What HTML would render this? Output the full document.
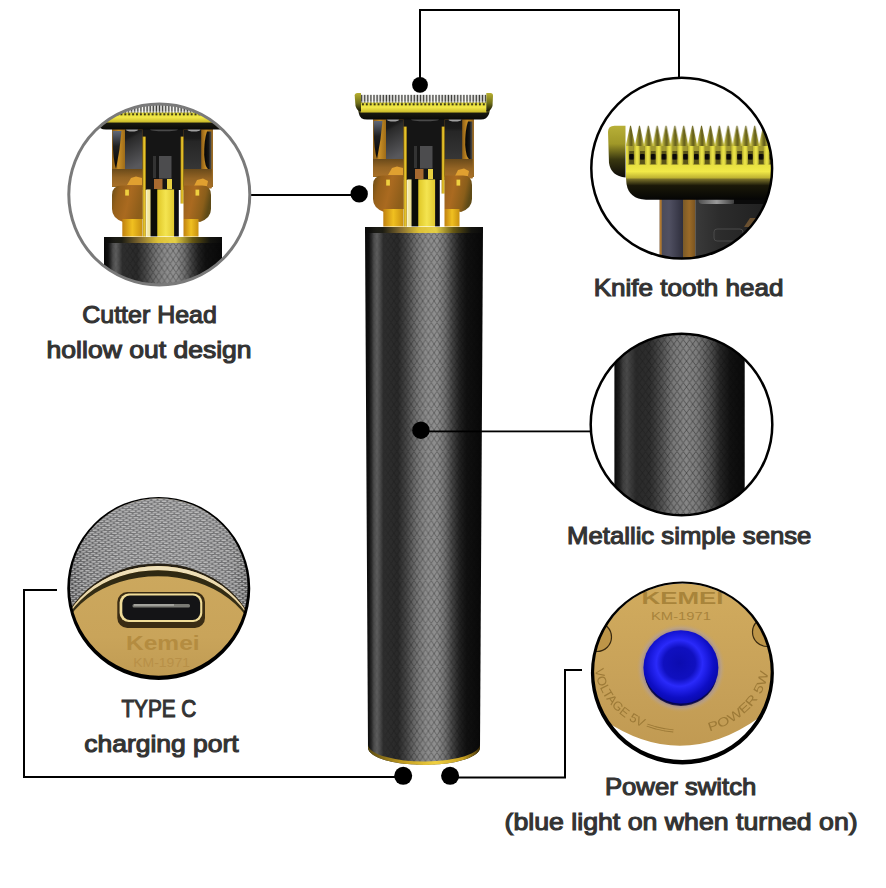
<!DOCTYPE html>
<html><head><meta charset="utf-8">
<style>
html,body{margin:0;padding:0;background:#fff;width:886px;height:888px;overflow:hidden;}
svg{display:block;}
.lbl{font-family:"Liberation Sans",sans-serif;font-weight:normal;fill:#333;stroke:#333;stroke-width:1.1px;font-size:24px;}
</style></head><body>
<svg width="886" height="888" viewBox="0 0 886 888">
<defs>
  <linearGradient id="bodyG" x1="0" y1="0" x2="1" y2="0">
    <stop offset="0" stop-color="#080808"/>
    <stop offset="0.034" stop-color="#111111"/>
    <stop offset="0.055" stop-color="#2a2a2a"/>
    <stop offset="0.076" stop-color="#4c4c4c"/>
    <stop offset="0.102" stop-color="#5e5e5e"/>
    <stop offset="0.127" stop-color="#4a4a4a"/>
    <stop offset="0.155" stop-color="#2e2e2e"/>
    <stop offset="0.28" stop-color="#2a2a2a"/>
    <stop offset="0.36" stop-color="#4a4a4a"/>
    <stop offset="0.44" stop-color="#747474"/>
    <stop offset="0.52" stop-color="#8c8c8c"/>
    <stop offset="0.61" stop-color="#8e8e8e"/>
    <stop offset="0.68" stop-color="#707070"/>
    <stop offset="0.74" stop-color="#444444"/>
    <stop offset="0.8" stop-color="#222222"/>
    <stop offset="0.86" stop-color="#111111"/>
    <stop offset="1" stop-color="#080808"/>
  </linearGradient>
  <linearGradient id="bodyG2" x1="0" y1="0" x2="1" y2="0">
    <stop offset="0" stop-color="#0a0a0a"/>
    <stop offset="0.04" stop-color="#202020"/>
    <stop offset="0.066" stop-color="#3e3e3e"/>
    <stop offset="0.097" stop-color="#4a4a4a"/>
    <stop offset="0.127" stop-color="#3a3a3a"/>
    <stop offset="0.166" stop-color="#2a2a2a"/>
    <stop offset="0.273" stop-color="#2e2e2e"/>
    <stop offset="0.35" stop-color="#4a4a4a"/>
    <stop offset="0.45" stop-color="#787878"/>
    <stop offset="0.55" stop-color="#868686"/>
    <stop offset="0.64" stop-color="#7a7a7a"/>
    <stop offset="0.733" stop-color="#525252"/>
    <stop offset="0.81" stop-color="#262626"/>
    <stop offset="0.887" stop-color="#121212"/>
    <stop offset="1" stop-color="#0a0a0a"/>
  </linearGradient>
  <pattern id="knurl2" width="6.3" height="8.6" patternUnits="userSpaceOnUse" x="614" y="0">
    <path d="M0 4.3 L3.15 0 L6.3 4.3 L3.15 8.6 Z" fill="none" stroke="#000" stroke-opacity="0.4" stroke-width="0.9"/>
  </pattern>
  <pattern id="knurl" width="5.75" height="8.6" patternUnits="userSpaceOnUse">
    <path d="M0 4.3 L2.875 0 L5.75 4.3 L2.875 8.6 Z" fill="none" stroke="#000" stroke-opacity="0.36" stroke-width="0.8"/>
  </pattern>
  <linearGradient id="rimG" x1="0" y1="0" x2="1" y2="0">
    <stop offset="0" stop-color="#5a4a10"/>
    <stop offset="0.3" stop-color="#c09a20"/>
    <stop offset="0.6" stop-color="#f0d040"/>
    <stop offset="0.85" stop-color="#c8a020"/>
    <stop offset="1" stop-color="#403008"/>
  </linearGradient>
  <linearGradient id="topBandG" x1="0" y1="0" x2="1" y2="0">
    <stop offset="0" stop-color="#0a0a0a"/>
    <stop offset="0.15" stop-color="#1a1a10"/>
    <stop offset="0.3" stop-color="#8a7030"/>
    <stop offset="0.45" stop-color="#e8c830"/>
    <stop offset="0.6" stop-color="#f0d840"/>
    <stop offset="0.75" stop-color="#6a5a10"/>
    <stop offset="0.9" stop-color="#151510"/>
    <stop offset="1" stop-color="#0a0a0a"/>
  </linearGradient>
  <!-- blade gradients -->
  <linearGradient id="yelG" x1="0" y1="0" x2="0" y2="1">
    <stop offset="0" stop-color="#d8d030"/>
    <stop offset="0.5" stop-color="#f2e848"/>
    <stop offset="1" stop-color="#c8b828"/>
  </linearGradient>
  <linearGradient id="capG" x1="0" y1="0" x2="0" y2="1">
    <stop offset="0" stop-color="#b8b030"/>
    <stop offset="0.55" stop-color="#707018"/>
    <stop offset="1" stop-color="#101008"/>
  </linearGradient>
  <linearGradient id="colG" x1="0" y1="0" x2="1" y2="0">
    <stop offset="0" stop-color="#8e5e16"/>
    <stop offset="0.5" stop-color="#c88e26"/>
    <stop offset="1" stop-color="#9e6c18"/>
  </linearGradient>
  <linearGradient id="lobeG" x1="0" y1="0" x2="1" y2="0.3">
    <stop offset="0" stop-color="#6a4c16"/>
    <stop offset="0.25" stop-color="#96601a"/>
    <stop offset="0.6" stop-color="#aa6a20"/>
    <stop offset="1" stop-color="#8e5e1a"/>
  </linearGradient>
  <linearGradient id="neckG" x1="0" y1="0" x2="1" y2="0">
    <stop offset="0" stop-color="#c08010"/>
    <stop offset="0.5" stop-color="#f0c020"/>
    <stop offset="1" stop-color="#c89010"/>
  </linearGradient>
  <linearGradient id="cylG" x1="0" y1="0" x2="1" y2="0">
    <stop offset="0" stop-color="#f4eeb0"/>
    <stop offset="0.12" stop-color="#f0e090"/>
    <stop offset="0.14" stop-color="#0c0c08"/>
    <stop offset="0.33" stop-color="#0c0c08"/>
    <stop offset="0.35" stop-color="#e0c828"/>
    <stop offset="0.6" stop-color="#f4e450"/>
    <stop offset="0.85" stop-color="#e0c830"/>
    <stop offset="0.87" stop-color="#0c0c10"/>
    <stop offset="1" stop-color="#0c0c10"/>
  </linearGradient>
  <linearGradient id="blockG" x1="0" y1="0" x2="1" y2="0">
    <stop offset="0" stop-color="#2a2a2a"/>
    <stop offset="0.12" stop-color="#5a5a5a"/>
    <stop offset="0.2" stop-color="#333"/>
    <stop offset="0.5" stop-color="#222"/>
    <stop offset="0.8" stop-color="#333"/>
    <stop offset="0.9" stop-color="#444"/>
    <stop offset="1" stop-color="#2a2a2a"/>
  </linearGradient>
  <pattern id="teeth" width="3.1" height="7.8" patternUnits="userSpaceOnUse" x="360.5">
    <rect x="0" y="0" width="3.1" height="7.8" fill="#fbfbf8"/>
    <rect x="0.4" y="0.4" width="1.2" height="7.4" fill="#383834"/>
    <rect x="1.6" y="0.4" width="0.6" height="7.4" fill="#a0a0a0"/>
  </pattern>

  <linearGradient id="darkInL" x1="0" y1="0" x2="0" y2="1">
    <stop offset="0" stop-color="#606878"/>
    <stop offset="0.4" stop-color="#202020"/>
    <stop offset="1" stop-color="#050505"/>
  </linearGradient>
  <linearGradient id="darkInR" x1="0" y1="0" x2="1" y2="0">
    <stop offset="0" stop-color="#050505"/>
    <stop offset="0.6" stop-color="#151515"/>
    <stop offset="1" stop-color="#505050"/>
  </linearGradient>
  <linearGradient id="blkL" x1="0" y1="0" x2="0.25" y2="1">
    <stop offset="0" stop-color="#161616"/>
    <stop offset="0.22" stop-color="#1c1c1c"/>
    <stop offset="0.3" stop-color="#2a2a2a"/>
    <stop offset="1" stop-color="#58585c"/>
  </linearGradient>
  <linearGradient id="blkR" x1="0" y1="0" x2="0" y2="1">
    <stop offset="0" stop-color="#161616"/>
    <stop offset="0.22" stop-color="#1c1c1c"/>
    <stop offset="0.3" stop-color="#262626"/>
    <stop offset="1" stop-color="#363636"/>
  </linearGradient>
  <linearGradient id="lobeGR" x1="0" y1="0" x2="1" y2="0.3">
    <stop offset="0" stop-color="#96601c"/>
    <stop offset="0.4" stop-color="#aa6a20"/>
    <stop offset="0.8" stop-color="#8a5e1a"/>
    <stop offset="1" stop-color="#5e4a16"/>
  </linearGradient>
  <linearGradient id="rodG" x1="0" y1="0" x2="1" y2="0">
    <stop offset="0" stop-color="#a88010"/>
    <stop offset="0.5" stop-color="#f0d030"/>
    <stop offset="1" stop-color="#b08810"/>
  </linearGradient>
  <linearGradient id="bladeDarkG" x1="0" y1="0" x2="0" y2="1">
    <stop offset="0" stop-color="#6a6420"/>
    <stop offset="0.35" stop-color="#181810"/>
    <stop offset="1" stop-color="#0a0a08"/>
  </linearGradient>
  <pattern id="rivets" width="3.9" height="3" patternUnits="userSpaceOnUse" x="361" y="102.6">
    <rect x="0.9" y="0.4" width="2" height="2.3" rx="0.8" fill="#1e1c0c"/>
  </pattern>
  <linearGradient id="trGray" x1="0" y1="0" x2="1" y2="0">
    <stop offset="0" stop-color="#4a4a58"/>
    <stop offset="0.4" stop-color="#505062"/>
    <stop offset="1" stop-color="#2e2e3c"/>
  </linearGradient>
  <linearGradient id="trGold" x1="0" y1="0" x2="1" y2="0">
    <stop offset="0" stop-color="#7a5a28"/>
    <stop offset="0.5" stop-color="#9a6a28"/>
    <stop offset="1" stop-color="#7a5420"/>
  </linearGradient>
  <linearGradient id="trDark" x1="0" y1="0" x2="1" y2="0">
    <stop offset="0" stop-color="#3a3a3a"/>
    <stop offset="0.3" stop-color="#2c2c2c"/>
    <stop offset="1" stop-color="#1e1e1e"/>
  </linearGradient>
  <linearGradient id="trPill" x1="0" y1="0" x2="1" y2="0">
    <stop offset="0" stop-color="#505050"/>
    <stop offset="0.5" stop-color="#9a9a9a"/>
    <stop offset="1" stop-color="#3a3a3a"/>
  </linearGradient>
  <linearGradient id="trBand" x1="0" y1="0" x2="0" y2="1">
    <stop offset="0" stop-color="#8a8030"/>
    <stop offset="0.35" stop-color="#1a1808"/>
    <stop offset="1" stop-color="#050505"/>
  </linearGradient>
  <linearGradient id="trUnder" x1="0" y1="0" x2="0" y2="1">
    <stop offset="0" stop-color="#8a8428"/>
    <stop offset="0.5" stop-color="#d0c840"/>
    <stop offset="1" stop-color="#c8c038"/>
  </linearGradient>
  <linearGradient id="trTooth" x1="0" y1="0" x2="1" y2="0">
    <stop offset="0" stop-color="#d8d048"/>
    <stop offset="0.42" stop-color="#7a7424"/>
    <stop offset="0.58" stop-color="#605a1a"/>
    <stop offset="1" stop-color="#c0b838"/>
  </linearGradient>
  <pattern id="trTeeth" x="626.1" y="125" width="8.87" height="23" patternUnits="userSpaceOnUse">
    <rect width="8.87" height="23" fill="#ffffff"/>
    <path d="M0 19.5 L4.0 0.7 L4.9 0.7 L8.87 19.5 L8.87 23 L0 23 Z" fill="url(#trTooth)"/>
  </pattern>
  <pattern id="trLower" x="629.2" y="140" width="10.8" height="26" patternUnits="userSpaceOnUse">
    <rect width="10.8" height="26" fill="#5a5418"/>
    <rect x="4.9" y="-3" width="5.7" height="28.5" rx="2.8" fill="url(#trLowerG)"/>
    <rect x="-0.1" y="-3" width="4.9" height="14" fill="#a09830"/>
  </pattern>
  <linearGradient id="trLowerG" x1="0" y1="0" x2="1" y2="0">
    <stop offset="0" stop-color="#b8b030"/>
    <stop offset="0.5" stop-color="#f0e84a"/>
    <stop offset="1" stop-color="#c8c038"/>
  </linearGradient>
  <pattern id="trHoles" x="629.2" y="154" width="10.8" height="5.6" patternUnits="userSpaceOnUse">
    <rect x="0" y="0" width="4.6" height="5.6" rx="1" fill="#0a0808"/>
  </pattern>
  <linearGradient id="trYel" x1="0" y1="0" x2="0" y2="1">
    <stop offset="0" stop-color="#e8e040"/>
    <stop offset="0.5" stop-color="#f2ea48"/>
    <stop offset="1" stop-color="#b8ac30"/>
  </linearGradient>
  <linearGradient id="trCap" x1="0" y1="0" x2="0" y2="1">
    <stop offset="0" stop-color="#b8b038"/>
    <stop offset="0.35" stop-color="#a09828"/>
    <stop offset="0.65" stop-color="#3a3810"/>
    <stop offset="1" stop-color="#0c0a08"/>
  </linearGradient>
  <linearGradient id="blFace" x1="0" y1="0" x2="0" y2="1">
    <stop offset="0.4" stop-color="#cca85e"/>
    <stop offset="0.75" stop-color="#c9a45a"/>
    <stop offset="1" stop-color="#bf9a52"/>
  </linearGradient>
  <linearGradient id="blKnurlBase" gradientUnits="userSpaceOnUse" x1="67" y1="0" x2="250" y2="0">
    <stop offset="0" stop-color="#3a3a3c"/>
    <stop offset="0.1" stop-color="#626264"/>
    <stop offset="0.3" stop-color="#727274"/>
    <stop offset="0.7" stop-color="#767678"/>
    <stop offset="0.9" stop-color="#6a6a6c"/>
    <stop offset="1" stop-color="#404040"/>
  </linearGradient>
  <pattern id="blKnurl" width="6.4" height="4.2" patternUnits="userSpaceOnUse" patternTransform="rotate(-3)">
    <rect x="0" y="1.95" width="6.4" height="0.5" fill="#303030" opacity="0.35"/>
    <rect x="0" y="4.05" width="6.4" height="0.3" fill="#303030" opacity="0.35"/>
    <ellipse cx="3.2" cy="1.0" rx="2.6" ry="0.85" fill="#cacaca" opacity="0.85"/>
    <ellipse cx="0" cy="3.1" rx="2.6" ry="0.85" fill="#cacaca" opacity="0.85"/>
    <ellipse cx="6.4" cy="3.1" rx="2.6" ry="0.85" fill="#cacaca" opacity="0.85"/>
  </pattern>
  <linearGradient id="brFace" x1="0" y1="0" x2="0" y2="1">
    <stop offset="0" stop-color="#d2ac5e"/>
    <stop offset="0.6" stop-color="#c6a058"/>
    <stop offset="1" stop-color="#bf9850"/>
  </linearGradient>
  <radialGradient id="brGlow" cx="0.5" cy="0.5" r="0.5">
    <stop offset="0.8" stop-color="#8070a8" stop-opacity="0.75"/>
    <stop offset="0.9" stop-color="#b0a0a0" stop-opacity="0.5"/>
    <stop offset="1" stop-color="#c9a257" stop-opacity="0"/>
  </radialGradient>
  <radialGradient id="brBtn" cx="0.48" cy="0.44" r="0.56">
    <stop offset="0" stop-color="#0c0cb0"/>
    <stop offset="0.38" stop-color="#1010c0"/>
    <stop offset="0.55" stop-color="#2a2afa"/>
    <stop offset="0.66" stop-color="#1e1ee6"/>
    <stop offset="0.82" stop-color="#0e0ec4"/>
    <stop offset="1" stop-color="#0808a4"/>
  </radialGradient>
  <linearGradient id="blCream" x1="0" y1="0" x2="0" y2="1">
    <stop offset="0" stop-color="#f0e2bc"/>
    <stop offset="0.5" stop-color="#e4d0a0"/>
    <stop offset="1" stop-color="#c8aa70"/>
  </linearGradient>
  <linearGradient id="blDarkBand" x1="0" y1="0" x2="0" y2="1">
    <stop offset="0" stop-color="#2e2812"/>
    <stop offset="0.6" stop-color="#3a3218"/>
    <stop offset="1" stop-color="#7a6230"/>
  </linearGradient>
  <linearGradient id="knMaskG" x1="0" y1="0" x2="1" y2="0">
    <stop offset="0" stop-color="#fff" stop-opacity="0.2"/>
    <stop offset="0.15" stop-color="#fff" stop-opacity="0.25"/>
    <stop offset="0.3" stop-color="#fff" stop-opacity="0.8"/>
    <stop offset="0.45" stop-color="#fff" stop-opacity="1"/>
    <stop offset="0.7" stop-color="#fff" stop-opacity="1"/>
    <stop offset="0.85" stop-color="#fff" stop-opacity="0.6"/>
    <stop offset="1" stop-color="#fff" stop-opacity="0.4"/>
  </linearGradient>
  <mask id="knMask" maskContentUnits="objectBoundingBox">
    <rect x="0" y="0" width="1" height="1" fill="url(#knMaskG)"/>
  </mask>
  <linearGradient id="bronzeBand" x1="0" y1="0" x2="0" y2="1">
    <stop offset="0" stop-color="#6a4a1a"/>
    <stop offset="0.5" stop-color="#946424"/>
    <stop offset="1" stop-color="#a87028"/>
  </linearGradient>
  <g id="head">
    <!-- bronze backdrop -->
    <rect x="373" y="119" width="101" height="58" fill="#9a6a24"/>
    <!-- gold columns -->
    <rect x="373.3" y="119.5" width="12.7" height="56" fill="url(#colG)"/>
    <rect x="462" y="119.5" width="10.5" height="59" fill="url(#colG)"/>
    <path d="M373.7 121 L382.5 121 Q381 140 377 159 Q374 150 373.7 130 Z" fill="url(#darkInL)"/>
    <path d="M472.3 121.5 L468 121.5 Q465 130 465.2 145 Q466 157 469 159 L472.3 159 Z" fill="url(#darkInR)"/>
    <!-- side dark blocks -->
    <rect x="386" y="119.5" width="17.6" height="41" fill="url(#blkL)"/>
    <rect x="444.7" y="119.5" width="17.5" height="40" fill="url(#blkR)"/>
    <ellipse cx="393" cy="119.8" rx="6" ry="1.8" fill="#a0a0a0"/>
    <ellipse cx="455" cy="119.8" rx="6.5" ry="1.8" fill="#a0a0a0"/>
    <!-- center shaft -->
    <rect x="403.6" y="118" width="41" height="62" fill="#151515"/>
    <ellipse cx="425" cy="119.5" rx="14" ry="1.8" fill="#4a4a4a"/>
    <rect x="414" y="146" width="3" height="22" fill="#333"/>
    <rect x="420" y="146" width="12.5" height="22.5" fill="#4c4c4e"/>
    <rect x="415" y="169" width="8.5" height="10" fill="#a86a30"/>
    <rect x="428" y="169" width="5" height="10" fill="#e8d040"/>
    <!-- bronze lower band -->
    <rect x="373" y="159" width="30.6" height="17" fill="url(#bronzeBand)"/>
    <rect x="444.7" y="159" width="28" height="19" fill="url(#bronzeBand)"/>
    <path d="M388 175 L392 168 L397 166.5 L403 168 L403 175 Z" fill="#e0a030"/>
    <path d="M455 176 L458 170 L464 168.5 L469 171 L468 176 Z" fill="#e0a030"/>
    <!-- lobes -->
    <path d="M373 185 Q373 175.5 383 175.5 L403.8 175.5 L403.8 209 L384 212 Q373 208 373 199 Z" fill="url(#lobeG)"/>
    <path d="M472 185 Q472 175.5 463 175.5 L444.5 175.5 L444.5 209 L461 212 Q472 208 472 199 Z" fill="url(#lobeGR)"/>
    <rect x="386.2" y="179.6" width="3.7" height="6" fill="#f0d040"/>
    <rect x="456.5" y="179.6" width="3.7" height="6" fill="#f0d040"/>
    <rect x="383.3" y="209" width="20" height="17.5" fill="url(#neckG)"/>
    <rect x="444.5" y="209" width="15" height="17.5" fill="url(#neckG)"/>
    <!-- rods -->
    <rect x="403.6" y="126.6" width="3.2" height="100" fill="url(#rodG)"/>
    <rect x="441.6" y="126.6" width="3" height="67" fill="url(#rodG)"/>
    <!-- center cylinder -->
    <rect x="407.3" y="179.4" width="32.5" height="47" fill="url(#cylG)"/>
    <!-- blade -->
    <path d="M358 110 L490 110 L489 114 Q487 119.5 481 119.5 L367 119.5 Q360 119.5 359 114 Z" fill="url(#bladeDarkG)"/>
    <rect x="360.5" y="102" width="126" height="10.5" fill="url(#yelG)"/>
    <rect x="360.5" y="102.6" width="126" height="3" fill="url(#rivets)"/>
    <rect x="360.5" y="94.8" width="126" height="7.8" fill="url(#teeth)"/>
    <path d="M354.7 95.5 Q354.7 93 357.5 93 L361 93 L361 111.5 Q357 111 355.5 106 Z" fill="url(#capG)"/>
    <path d="M493 95.5 Q493 93 490.5 93 L486.3 93 L486.3 111.5 Q491 111 492.5 106 Z" fill="url(#capG)"/>
  </g>

  <clipPath id="cTL"><circle cx="159.3" cy="194.5" r="90.5"/></clipPath>
  <clipPath id="cTR"><circle cx="681.7" cy="168.2" r="90.5"/></clipPath>
  <clipPath id="cMR"><circle cx="681.5" cy="424.5" r="90.5"/></clipPath>
  <clipPath id="cBL"><circle cx="158.75" cy="588.4" r="90"/></clipPath>
  <clipPath id="cBR"><circle cx="682.4" cy="673" r="89.5"/></clipPath>
</defs>

<!-- ===== main trimmer ===== -->
<use href="#head"/>
<path d="M365 227 L483 227 L480 747 A56 17.5 0 0 1 368 748 Z" fill="url(#bodyG)"/>
<path d="M365 227 L483 227 L480 747 A56 17.5 0 0 1 368 748 Z" fill="url(#knurl)" mask="url(#knMask)"/>
<rect x="365" y="227" width="118" height="6" fill="url(#topBandG)" opacity="0.9"/>
<path d="M368 748 A56 17.5 0 0 0 480 747 L480 744 A56 17 0 0 1 368 745 Z" fill="url(#rimG)"/>

<!-- ===== lines ===== -->
<g fill="#000">
  <rect x="419" y="9" width="2" height="76"/>
  <rect x="419" y="9" width="261" height="2"/>
  <rect x="678" y="9" width="2" height="69"/>
  <rect x="251" y="194" width="108" height="2"/>
  <rect x="421" y="430.5" width="170" height="1.8"/>
  <rect x="23" y="589" width="2" height="189"/>
  <rect x="23" y="589" width="34" height="2"/>
  <rect x="23" y="776" width="380" height="2"/>
  <rect x="564" y="669" width="2" height="109"/>
  <rect x="564" y="669" width="18" height="2"/>
  <rect x="450" y="776.5" width="116" height="2"/>
  <circle cx="420" cy="84.8" r="7.9"/>
  <circle cx="359.2" cy="193.9" r="8.7"/>
  <circle cx="420.9" cy="430.2" r="8.7"/>
  <circle cx="403.2" cy="775.8" r="9"/>
  <circle cx="450.1" cy="775.8" r="9"/>
</g>

<!-- ===== top-left circle: cutter head ===== -->
<g clip-path="url(#cTL)">
  <g transform="translate(-261,10)">
    <use href="#head"/>
    <path d="M365 227 L483 227 L483 400 L365 400 Z" fill="url(#bodyG)"/>
    <path d="M365 227 L483 227 L483 400 L365 400 Z" fill="url(#knurl)" mask="url(#knMask)"/>
    <rect x="365" y="227" width="118" height="6" fill="url(#topBandG)" opacity="0.9"/>
  </g>
</g>
<circle cx="159.3" cy="194.5" r="90.5" fill="none" stroke="#7a7a7a" stroke-width="3"/>

<!-- ===== top-right circle: knife tooth ===== -->
<g clip-path="url(#cTR)">
  <!-- lower parts -->
  <rect x="659.7" y="196" width="23.5" height="70" fill="url(#trGray)"/>
  <rect x="683" y="196" width="12.5" height="70" fill="url(#trGold)"/>
  <rect x="659.7" y="196" width="2" height="70" fill="#b07830"/>
  <rect x="695.3" y="196" width="80" height="70" fill="url(#trDark)"/>
  <rect x="698.5" y="193" width="36.5" height="11" rx="4" fill="url(#trPill)"/>
  <rect x="734" y="193" width="45" height="11" fill="#0a0a0a"/>
  <rect x="714" y="229" width="29" height="12" rx="3" fill="none" stroke="#4a4a4a" stroke-width="1"/>
  <path d="M744 227 L750 218 L756 218 L756 227 Z" fill="#6a5030"/>
  <!-- dark band -->
  <path d="M626 178 L782 178 L782 199.7 L646 199.7 Q629 199 626.5 184 Z" fill="url(#trBand)"/>
  <!-- teeth zone -->
  <rect x="626" y="140" width="156" height="26" fill="url(#trLower)"/>
  <rect x="626" y="125" width="156" height="21" fill="url(#trTeeth)"/>
  <rect x="626" y="154" width="156" height="5.6" fill="url(#trHoles)"/>
  <!-- yellow bar -->
  <rect x="626" y="164.5" width="156" height="14" fill="url(#trYel)"/>
  <!-- cap -->
  <path d="M608 132 Q608 125.7 614.5 125.7 L625.5 125.7 L625.5 177.5 Q611 176 609 163 Z" fill="url(#trCap)"/>
</g>
<circle cx="681.7" cy="168.2" r="90.4" fill="none" stroke="#000" stroke-width="2.5"/>

<!-- ===== mid-right circle: body closeup ===== -->
<g clip-path="url(#cMR)">
  <rect x="614.4" y="320" width="130.3" height="210" fill="url(#bodyG2)"/>
  <rect x="614.4" y="320" width="130.3" height="210" fill="url(#knurl2)" mask="url(#knMask)"/>
</g>
<circle cx="681.5" cy="424.5" r="90.8" fill="none" stroke="#000" stroke-width="2.5"/>

<!-- ===== bottom-left circle: type C ===== -->
<g clip-path="url(#cBL)">
  <rect x="66" y="494" width="190" height="190" fill="url(#blFace)"/>
  <path d="M50 490 L270 490 L270 652 L258 652 A100 88 0 0 0 58 652 L50 652 Z" fill="url(#blKnurlBase)"/>
  <path d="M50 490 L270 490 L270 652 L258 652 A100 88 0 0 0 58 652 L50 652 Z" fill="url(#blKnurl)"/>
  <path d="M58 652 A100 88.6 0 0 1 258 652 A100 86.0 0 0 0 58 652 Z" fill="#262014"/>
  <path d="M58 652 A100 86.0 0 0 1 258 652 A100 81.7 0 0 0 58 652 Z" fill="url(#blCream)"/>
  <path d="M58 652 A100 81.7 0 0 1 258 652 A100 75.8 0 0 0 58 652 Z" fill="url(#blDarkBand)"/>
  <!-- usb-c -->
  <rect x="117.3" y="592" width="87.7" height="36" rx="10" fill="#3a2c14"/>
  <rect x="119.6" y="593.5" width="82.7" height="28.5" rx="9" fill="#f0dc98"/>
  <rect x="122.3" y="595.6" width="77.9" height="24.4" rx="7.5" fill="#141416"/>
  <rect x="132.5" y="604" width="57.5" height="3.4" rx="1.5" fill="#7a7a74"/>
  <rect x="134" y="604.3" width="40" height="1.3" fill="#c8c8c0" opacity="0.8"/>
  <text x="126" y="650.4" font-family="Liberation Sans,sans-serif" font-weight="bold" font-size="21" fill="#b48c40" textLength="73.6" lengthAdjust="spacingAndGlyphs">Kemei</text>
  <text x="133.2" y="666.7" font-family="Liberation Sans,sans-serif" font-size="12.5" fill="#b89048" textLength="56.8" lengthAdjust="spacingAndGlyphs">KM-1971</text>
</g>
<path fill-rule="evenodd" fill="#000" d="M67.25 588.40 A91.50 91.50 0 1 0 250.25 588.40 A91.50 91.50 0 1 0 67.25 588.40 Z M69.95 587.00 A88.80 88.80 0 1 0 247.55 587.00 A88.80 88.80 0 1 0 69.95 587.00 Z"/>

<!-- ===== bottom-right circle: power switch ===== -->
<g clip-path="url(#cBR)">
  <rect x="588" y="578" width="190" height="190" fill="url(#brFace)"/>
  <path d="M586 718 L604 720 Q682 773 760 717 L780 712 L780 770 L586 770 Z" fill="#ffffff"/>
  <!-- notches -->
  <circle cx="597" cy="637" r="14.5" fill="#bd9548" stroke="#3a2a10" stroke-width="1.2"/>
  <circle cx="767" cy="632" r="14.5" fill="#bd9548" stroke="#3a2a10" stroke-width="1.2"/>
  <!-- engraved text -->
  <text x="641.5" y="604" font-family="Liberation Sans,sans-serif" font-weight="bold" font-size="16" fill="#a8843a" textLength="82" lengthAdjust="spacingAndGlyphs">KEMEI</text>
  <text x="651" y="620" font-family="Liberation Sans,sans-serif" font-size="11.5" fill="#a8843c" textLength="60" lengthAdjust="spacingAndGlyphs">KM-1971</text>
  <path id="brArc" d="M595 664 A87 71 0 0 0 769 664" fill="none"/>
  <text font-family="Liberation Sans,sans-serif" font-size="12.5" fill="#987634" opacity="0.9"><textPath href="#brArc" startOffset="5" textLength="110" lengthAdjust="spacingAndGlyphs">VOLTAGE 5V ═══</textPath></text>
  <text font-family="Liberation Sans,sans-serif" font-size="12.5" fill="#987634" opacity="0.9"><textPath href="#brArc" startOffset="152" textLength="88" lengthAdjust="spacingAndGlyphs">POWER 5W</textPath></text>
  <!-- button -->
  <circle cx="680.9" cy="668" r="45" fill="url(#brGlow)"/>
  <circle cx="680.9" cy="667.7" r="37.5" fill="url(#brBtn)"/>
  <path d="M645 676 A37.5 37.5 0 0 0 716 680 A36 33 0 0 1 645 676 Z" fill="#05053a" opacity="0.8"/>
</g>
<path fill-rule="evenodd" fill="#000" d="M590.90 673.00 A91.50 91.50 0 1 0 773.90 673.00 A91.50 91.50 0 1 0 590.90 673.00 Z M594.15 671.75 A88.25 88.25 0 1 0 770.65 671.75 A88.25 88.25 0 1 0 594.15 671.75 Z"/>

<!-- ===== labels ===== -->
<text class="lbl" x="82.30" y="322.65" textLength="134.50" lengthAdjust="spacingAndGlyphs">Cutter Head</text>
<text class="lbl" x="46.60" y="358.15" textLength="205.00" lengthAdjust="spacingAndGlyphs">hollow out design</text>
<text class="lbl" x="593.70" y="295.85" textLength="189.90" lengthAdjust="spacingAndGlyphs">Knife tooth head</text>
<text class="lbl" x="567.10" y="544.25" textLength="244.30" lengthAdjust="spacingAndGlyphs">Metallic simple sense</text>
<text class="lbl" x="121.40" y="716.55" textLength="74.90" lengthAdjust="spacingAndGlyphs">TYPE C</text>
<text class="lbl" x="84.30" y="751.85" textLength="154.40" lengthAdjust="spacingAndGlyphs">charging port</text>
<text class="lbl" x="604.90" y="795.15" textLength="151.50" lengthAdjust="spacingAndGlyphs">Power switch</text>
<text class="lbl" x="504.50" y="830.45" textLength="353.20" lengthAdjust="spacingAndGlyphs">(blue light on when turned on)</text>
</svg>
</body></html>
